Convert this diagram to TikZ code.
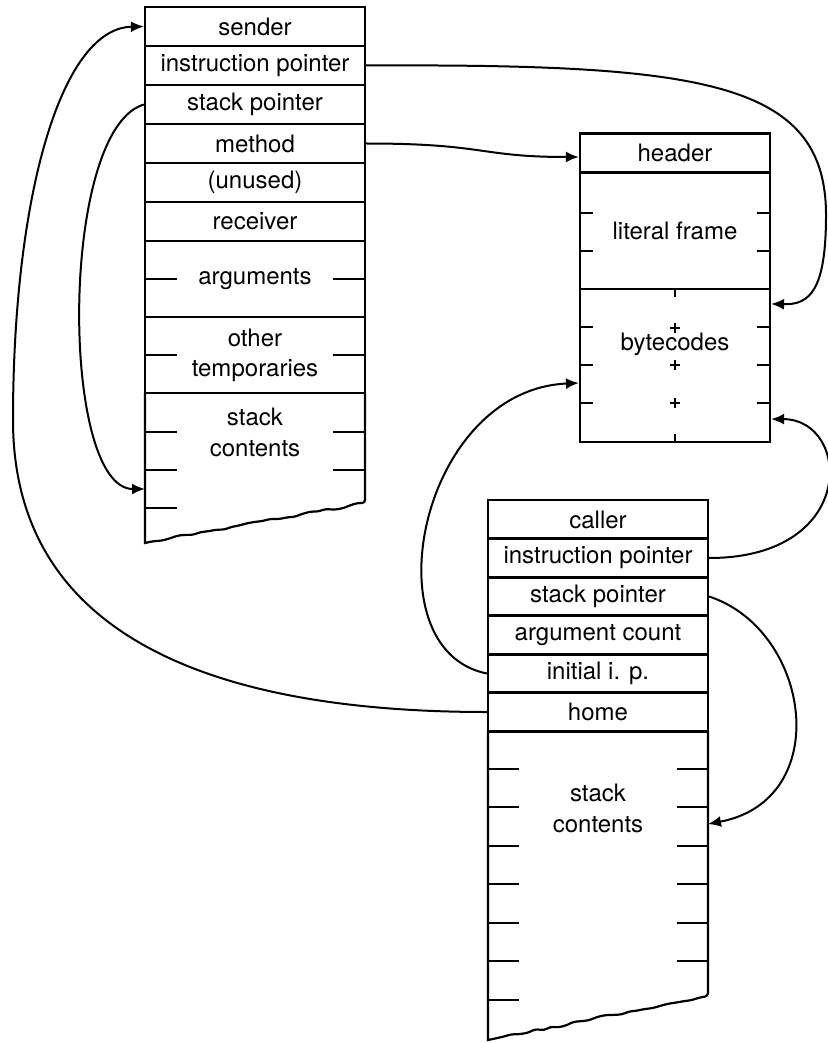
\documentclass[tikz,border=0pt]{standalone}
\usepackage{fontspec}
\setmainfont{TeX Gyre Heros}
\usepackage{tikz}
\usetikzlibrary{arrows.meta,decorations.pathmorphing}

\begin{document}
\begin{tikzpicture}[x=0.5pt, y=-0.5pt,
      slot/.style={draw, line width=1.1pt, minimum width=110pt, minimum height=19.5pt,
                   inner sep=0pt, align=center, font=\fontsize{12}{15}\selectfont},
      mslot/.style={slot, minimum width=95pt},
      txt/.style={inner sep=0pt, align=center, font=\fontsize{12}{15.5}\selectfont},
      tick/.style={line width=1.1pt},
      torn/.style={decoration={random steps, segment length=4pt, amplitude=0.7pt}, rounded corners=1.5pt},
      arr/.style={-{Latex[length=6.5pt, width=5.5pt]}, line width=1pt}]
    \pgfmathsetseed{7}
    \useasboundingbox (0,0) rectangle (828,1043);
    % method context
    \node[slot] (sender) at (255,26.5)  {sender};
    \node[slot] (ipa)    at (255,65.5)  {instruction pointer};
    \node[slot] (spa)    at (255,104.5) {stack pointer};
    \node[slot] (meth)   at (255,143.5) {method};
    \node[slot] (unused) at (255,182.5) {(unused)};
    \node[slot] (recv)   at (255,221.5) {receiver};
    \node[slot, minimum height=38pt] (args)  at (255,279) {arguments};
    \node[slot, minimum height=38pt] (temps) at (255,355) {other\\temporaries};
    \draw[line width=1.1pt] (145,393) -- (145,543) decorate[torn]{ -- (365,503)} -- (365,393);
    \node[txt] (stka) at (255,432) {stack\\contents};
    \foreach \y in {279,355,432,470,508} \draw[tick] (145,\y) -- +(32,0);
    \foreach \y in {279,355,432,470} \draw[tick] (365,\y) -- +(-32,0);
    \coordinate (spain) at (145,489);
    % compiled method
    \node[mslot] (header) at (675,153) {header};
    \node[mslot, minimum height=58pt] (litframe) at (675,231) {literal frame};
    \node[mslot, minimum height=76.5pt] (bytes) at (675,365.5) {};
    \node[txt] (bytext) at (675,344) {bytecodes};
    \foreach \y in {213,251,327,365,403} {
      \draw[tick] (580,\y) -- +(13,0);
      \draw[tick] (770,\y) -- +(-13,0);
    }
    \draw[tick] (bytes.north) -- +(0,9);
    \draw[tick] (bytes.south) -- +(0,-9);
    \foreach \y in {328,365,403}
      \draw[line width=0.8pt] (675,\y) +(-5,0) -- +(5,0) (675,\y) +(0,-5) -- +(0,5);
    % block context
    \node[slot] (caller) at (598,519.5) {caller};
    \node[slot] (ipb)    at (598,558)   {instruction pointer};
    \node[slot] (spb)    at (598,596.5) {stack pointer};
    \node[slot] (argc)   at (598,635)   {argument count};
    \node[slot] (initip) at (598,673.5) {initial i. p.};
    \node[slot] (home)   at (598,712)   {home};
    \draw[line width=1.1pt] (488,731) -- (488,1040) decorate[torn]{ -- (708,996)} -- (708,731);
    \node[txt] (stkb) at (598,808) {stack\\contents};
    \foreach \y in {769,807,846,884,923,961,1000} \draw[tick] (488,\y) -- +(31,0);
    \foreach \y in {769,807,846,884,923,961} \draw[tick] (708,\y) -- +(-31,0);
    \coordinate (spbin) at (708,824);
    % pointers
    \draw[arr] (home.west) .. controls (220,712) and (13,640) .. (13,420)
               .. controls (13,200) and (60,28) .. (sender.west);
    \draw[arr] (spa.west) .. controls +(-85,25) and +(-85,0) .. (spain);
    \draw[arr] (meth.east) .. controls +(120,0) and +(-100,0) .. ([yshift=-2pt]header.west);
    \draw[arr] (ipa.east) .. controls (700,64) and (826,80) .. (826,215)
               .. controls (826,290) and (810,305) .. ([yshift=-8pt]bytes.north east);
    \draw[arr] (ipb.east) .. controls +(150,0) and +(80,0) .. ([yshift=12pt]bytes.south east);
    \draw[arr] (initip.west) .. controls +(-118,-23.5) and +(-160,7) .. ([yshift=-8.75pt]bytes.west);
    \draw[arr] (spb.east) .. controls +(102,33.5) and +(127,-24) .. (spbin);
  \end{tikzpicture}
\end{document}
